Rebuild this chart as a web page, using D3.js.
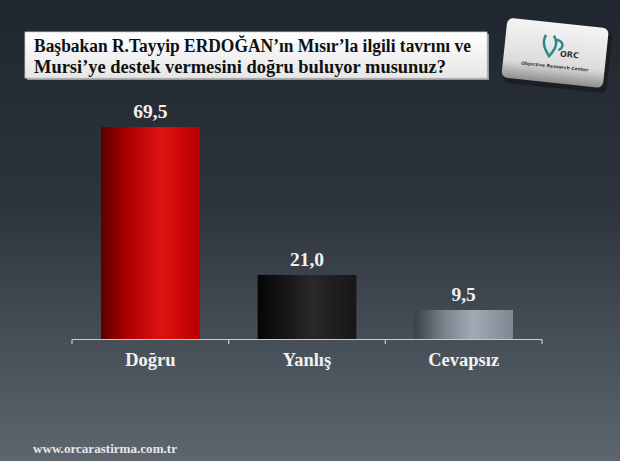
<!DOCTYPE html>
<html><head><meta charset="utf-8">
<script src="https://cdn.jsdelivr.net/npm/d3@7"></script>
<style>html,body{margin:0;padding:0;overflow:hidden;background:#22282f}</style>
</head><body>
<script>
const categories = ["Doğru", "Yanlış", "Cevapsız"];
const values = [69.5, 21.0, 9.5];
const valueLabels = ["69,5", "21,0", "9,5"];
const titleLines = ["Başbakan R.Tayyip ERDOĞAN’ın Mısır’la ilgili tavrını ve", "Mursi’ye destek vermesini doğru buluyor musunuz?"];
const footer = "www.orcarastirma.com.tr";

const W = 620, H = 461;
const svg = d3.select("body").append("svg").attr("width", W).attr("height", H);
const defs = svg.append("defs");

const bg = defs.append("linearGradient").attr("id","bg").attr("x1",0).attr("y1",0).attr("x2",0).attr("y2",1);
bg.append("stop").attr("offset","0%").attr("stop-color","#20262d");
bg.append("stop").attr("offset","45%").attr("stop-color","#2d343c");
bg.append("stop").attr("offset","100%").attr("stop-color","#5d666f");
svg.append("rect").attr("width",W).attr("height",H).attr("fill","url(#bg)");

function hgrad(id, stops){
  const g = defs.append("linearGradient").attr("id",id).attr("x1",0).attr("y1",0).attr("x2",1).attr("y2",0);
  stops.forEach(s=>g.append("stop").attr("offset",s[0]).attr("stop-color",s[1]));
}
hgrad("g0", [["0%","#5a0000"],["25%","#a80000"],["60%","#e01212"],["100%","#b80000"]]);
hgrad("g1", [["0%","#050505"],["25%","#141414"],["55%","#2a2828"],["100%","#161616"]]);
hgrad("g2", [["0%","#3a4049"],["30%","#7a828c"],["60%","#a2aab5"],["100%","#7f8791"]]);

// Title box
const tb = defs.append("linearGradient").attr("id","tb").attr("x1",0).attr("y1",0).attr("x2",0).attr("y2",1);
tb.append("stop").attr("offset","0%").attr("stop-color","#ffffff");
tb.append("stop").attr("offset","100%").attr("stop-color","#e6e6e6");
svg.append("rect").attr("x",27).attr("y",34).attr("width",462).attr("height",46).attr("fill","#9a9a9a");
svg.append("rect").attr("x",25).attr("y",32).attr("width",462).attr("height",46).attr("fill","url(#tb)").attr("stroke","#cfcfcf").attr("stroke-width",0.8);
const titleW = [437, 412];
svg.append("g").selectAll("text").data(titleLines).join("text")
  .attr("x",34).attr("y",(d,i)=>52+i*21)
  .attr("font-family","Liberation Serif, serif").attr("font-weight","bold").attr("font-size",18.5)
  .attr("textLength",(d,i)=>titleW[i]).attr("lengthAdjust","spacingAndGlyphs")
  .attr("fill","#111").text(d=>d);

// Logo
const lg = svg.append("g").attr("transform","translate(556,54) rotate(6)");
const lgG = defs.append("linearGradient").attr("id","lg").attr("x1",0).attr("y1",0).attr("x2",0).attr("y2",1);
lgG.append("stop").attr("offset","0%").attr("stop-color","#f4f4f4");
lgG.append("stop").attr("offset","70%").attr("stop-color","#dcdcdc");
lgG.append("stop").attr("offset","100%").attr("stop-color","#8e8e8e");
lg.append("rect").attr("x",-50).attr("y",-28).attr("width",104).attr("height",62).attr("rx",6).attr("fill","#111").attr("opacity",0.5);
lg.append("rect").attr("x",-52).attr("y",-31).attr("width",102).attr("height",60).attr("rx",6).attr("fill","url(#lg)");
lg.append("path").attr("d","M-12,-18 C-16,-8 -10,-2 -6,4 M-4,-18 C2,-10 -2,-4 -6,2 M-2,-14 C6,-14 8,-8 2,-4").attr("fill","none").attr("stroke","#2a8a8a").attr("stroke-width",2.5);
lg.append("text").attr("x",4).attr("y",2).attr("font-family","DejaVu Sans, sans-serif").attr("font-weight","bold").attr("font-size",8).attr("fill","#333").text("ORC");
lg.append("text").attr("x",0).attr("y",14).attr("text-anchor","middle").attr("font-family","DejaVu Sans, sans-serif").attr("font-weight","bold").attr("font-size",4.5).attr("fill","#333").text("Objective Research Center");

// Chart
const x = d3.scaleBand().domain(categories).range([72,542]).paddingInner(0.37).paddingOuter(0.185);
const y = d3.scaleLinear().domain([0,100]).range([339,34]);

svg.append("g").selectAll("rect").data(values).join("rect")
  .attr("x",(d,i)=>x(categories[i])).attr("width",x.bandwidth())
  .attr("y",d=>y(d)).attr("height",d=>y(0)-y(d))
  .attr("fill",(d,i)=>`url(#g${i})`);

svg.append("g").selectAll("text").data(values).join("text")
  .attr("x",(d,i)=>x(categories[i])+x.bandwidth()/2).attr("y",d=>y(d)-9)
  .attr("text-anchor","middle").attr("font-family","Liberation Serif, serif").attr("font-weight","bold")
  .attr("font-size",19.5).attr("fill","#f2f2f2").text((d,i)=>valueLabels[i]);

// axis
const ax = svg.append("g").attr("stroke","#c8ccd0").attr("stroke-width",1.2);
ax.append("line").attr("x1",72).attr("x2",542).attr("y1",339.5).attr("y2",339.5);
const step = (542-72)/categories.length;
d3.range(categories.length+1).forEach(i=>{
  ax.append("line").attr("x1",72+i*step).attr("x2",72+i*step).attr("y1",339.5).attr("y2",344);
});
svg.append("g").selectAll("text").data(categories).join("text")
  .attr("x",d=>x(d)+x.bandwidth()/2).attr("y",366)
  .attr("text-anchor","middle").attr("font-family","Liberation Serif, serif").attr("font-weight","bold")
  .attr("font-size",18.5).attr("fill","#f2f2f2").text(d=>d);

svg.append("text").attr("x",33).attr("y",453).attr("font-family","Liberation Serif, serif").attr("font-weight","bold")
  .attr("font-size",13).attr("textLength",144).attr("lengthAdjust","spacingAndGlyphs")
  .attr("fill","#e8e8e8").text(footer);
</script>
</body></html>
